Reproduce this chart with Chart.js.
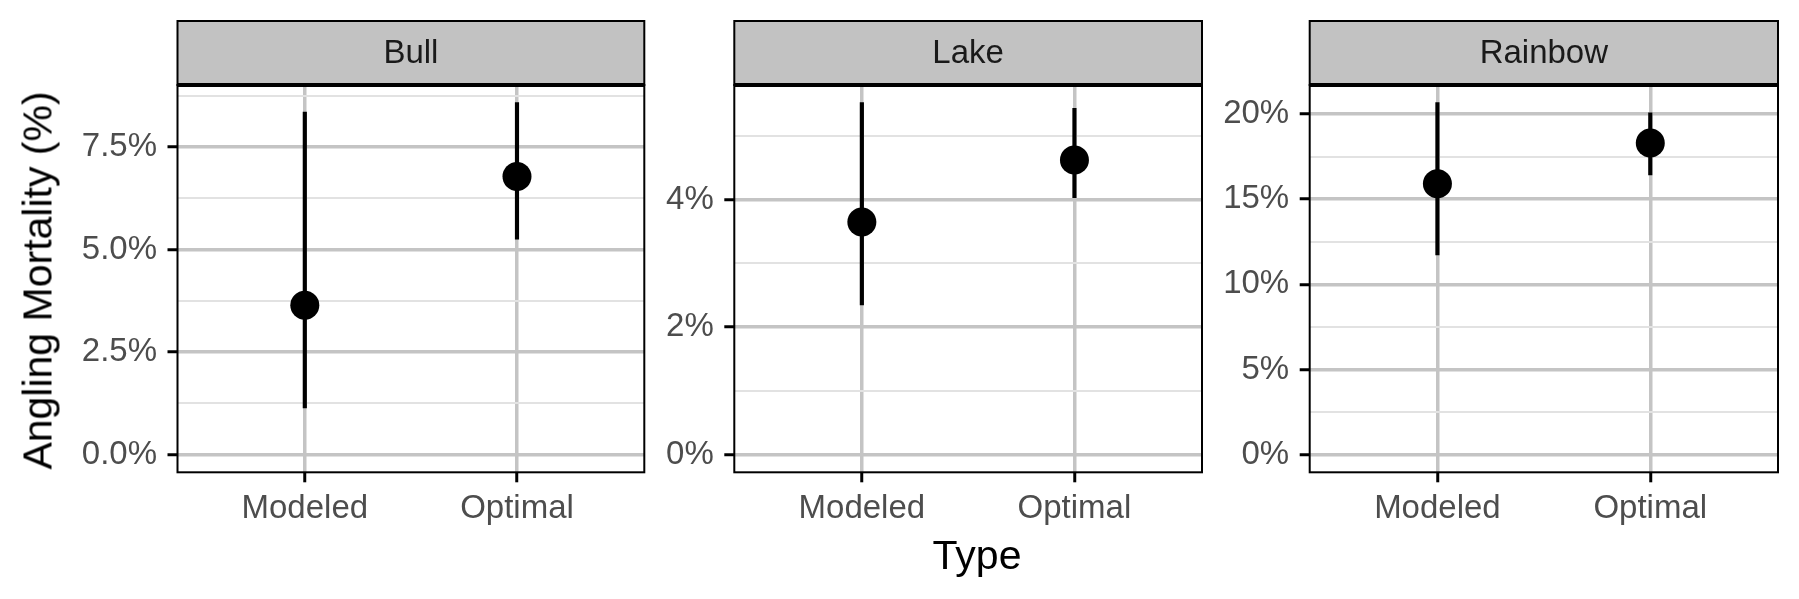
<!DOCTYPE html>
<html>
<head>
<meta charset="utf-8">
<script src="https://cdn.jsdelivr.net/npm/chart.js@4.4.1/dist/chart.umd.min.js"></script>
<style>
  body { margin: 0; background: #fff; width: 1799px; height: 599px; position: relative; overflow: hidden; font-family: "Liberation Sans", Arial, sans-serif; }
  canvas { position: absolute; top: 0; }
  .axisTitle { position: absolute; font-size: 41px; line-height: 41px; color: #000; text-align: center; white-space: nowrap; }
</style>
</head>
<body>
<canvas id="bullChart" width="647" height="599" style="left:0px"></canvas>
<canvas id="lakeChart" width="558" height="599" style="left:647px"></canvas>
<canvas id="rainbowChart" width="594" height="599" style="left:1205px"></canvas>
<div class="axisTitle" id="yTitle" style="width:500px; height:41px; left:-212px; top:260px; transform:rotate(-90deg);">Angling Mortality (%)</div>
<div class="axisTitle" id="xTitle" style="width:200px; left:877px; top:535px;">Type</div>
<script>
//Categories
const types = ["Modeled", "Optimal"];
const species = ["Bull", "Lake", "Rainbow"];

//Angling mortality (%) - estimate, lower and upper end of the interval
const bullEst = [3.64, 6.78];
const bullLow = [1.14, 5.25];
const bullHigh = [8.35, 8.58];

const lakeEst = [3.65, 4.62];
const lakeLow = [2.35, 4.03];
const lakeHigh = [5.52, 5.43];

const rainbowEst = [15.9, 18.3];
const rainbowLow = [11.73, 16.42];
const rainbowHigh = [20.67, 20.07];

//Y ticks (major ones get a label, minor ones only a light grid line)
const bullTicks = [0, 2.5, 5, 7.5];
const bullLabels = ["0.0%", "2.5%", "5.0%", "7.5%"];
const bullMinor = [1.25, 3.75, 6.25, 8.75];

const lakeTicks = [0, 2, 4];
const lakeLabels = ["0%", "2%", "4%"];
const lakeMinor = [1, 3, 5];

const rainbowTicks = [0, 5, 10, 15, 20];
const rainbowLabels = ["0%", "5%", "10%", "15%", "20%"];
const rainbowMinor = [2.5, 7.5, 12.5, 17.5];

//Look
const majorGrid = "#c4c4c4";
const minorGrid = "#e2e2e2";
const tickText = "#4d4d4d";
const stripTop = 21;
const tickFont = { family: "Liberation Sans", size: 33 };


// strip on top + black frame round the panel
const panelFrame = {
  id: "panelFrame",
  afterDatasetsDraw(chart, args, opts) {
    const ctx = chart.ctx;
    const a = chart.chartArea;
    ctx.save();
    ctx.fillStyle = "#c2c2c2";
    ctx.fillRect(a.left, stripTop, a.right - a.left, a.top - stripTop);
    ctx.strokeStyle = "#000";
    ctx.lineWidth = 2;
    ctx.strokeRect(a.left, stripTop, a.right - a.left, a.top - stripTop);
    ctx.strokeRect(a.left, a.top, a.right - a.left, a.bottom - a.top);
    // the line under the strip is a bit heavier
    ctx.lineWidth = 4;
    ctx.beginPath();
    ctx.moveTo(a.left, a.top);
    ctx.lineTo(a.right, a.top);
    ctx.stroke();

    ctx.fillStyle = "#1a1a1a";
    ctx.font = "33px 'Liberation Sans'";
    ctx.textAlign = "center";
    ctx.textBaseline = "middle";
    ctx.fillText(opts.title, (a.left + a.right) / 2, (stripTop + a.top) / 2 + 1);
    ctx.restore();
  }
};


function makePanel(canvasId, title, est, low, high, ticks, labels, minor, yWidth, rightPad){

  // ggplot style limits: include 0, then 5% extra on both ends
  let lo = Math.min(0, ...low);
  let hi = Math.max(...high);
  let pad = (hi - lo) * 0.05;

  let isMajor = (c) => c.tick && ticks.includes(c.tick.value);

  const ctx = document.getElementById(canvasId).getContext("2d");
  return new Chart(ctx, {
    type: "bar",
    data: {
      datasets: [
        {
          type: "scatter",
          data: types.map((t, i) => ({ x: i + 1, y: est[i] })),
          pointRadius: 14.5,
          pointHoverRadius: 14.5,
          backgroundColor: "#000",
          borderWidth: 0,
          order: 0
        },
        {
          type: "bar",
          data: types.map((t, i) => ({ x: i + 1, y: [low[i], high[i]] })),
          backgroundColor: "#000",
          barThickness: 3.5,
          order: 1
        }
      ]
    },
    options: {
      responsive: false,
      animation: false,
      events: [],
      layout: { autoPadding: false, padding: { top: 85, right: rightPad, bottom: 0, left: 0 } },
      plugins: {
        legend: { display: false },
        tooltip: { enabled: false },
        panelFrame: { title: title }
      },
      scales: {
        x: {
          type: "linear",
          min: 0.4,
          max: 2.6,
          offset: false,
          afterBuildTicks: (s) => { s.ticks = types.map((t, i) => ({ value: i + 1 })); },
          afterFit: (s) => { s.height = 126.7; },
          ticks: {
            autoSkip: false,
            maxRotation: 0,
            padding: 7,
            color: tickText,
            font: tickFont,
            callback: (v) => types[v - 1]
          },
          grid: {
            offset: false,
            color: majorGrid,
            lineWidth: 3.5,
            tickColor: "#000",
            tickWidth: 3,
            tickLength: 10
          },
          border: { display: false }
        },
        y: {
          type: "linear",
          min: lo - pad,
          max: hi + pad,
          afterBuildTicks: (s) => {
            s.ticks = ticks.concat(minor).sort((p, q) => p - q).map(v => ({ value: v }));
          },
          afterFit: (s) => { s.width = yWidth; },
          ticks: {
            autoSkip: false,
            padding: 10.5,
            color: tickText,
            font: tickFont,
            callback: (v) => {
              let i = ticks.indexOf(v);
              return i >= 0 ? labels[i] : "";
            }
          },
          grid: {
            color: (c) => isMajor(c) ? majorGrid : minorGrid,
            lineWidth: (c) => isMajor(c) ? 3.5 : 2,
            tickColor: (c) => isMajor(c) ? "#000" : "rgba(0,0,0,0)",
            tickWidth: 3,
            tickLength: 10
          },
          border: { display: false }
        }
      }
    },
    plugins: [panelFrame]
  });
}

makePanel("bullChart", species[0], bullEst, bullLow, bullHigh, bullTicks, bullLabels, bullMinor, 177.5, 2.7);
makePanel("lakeChart", species[1], lakeEst, lakeLow, lakeHigh, lakeTicks, lakeLabels, lakeMinor, 87.3, 3);
makePanel("rainbowChart", species[2], rainbowEst, rainbowLow, rainbowHigh, rainbowTicks, rainbowLabels, rainbowMinor, 104.7, 21);
</script>
</body>
</html>
